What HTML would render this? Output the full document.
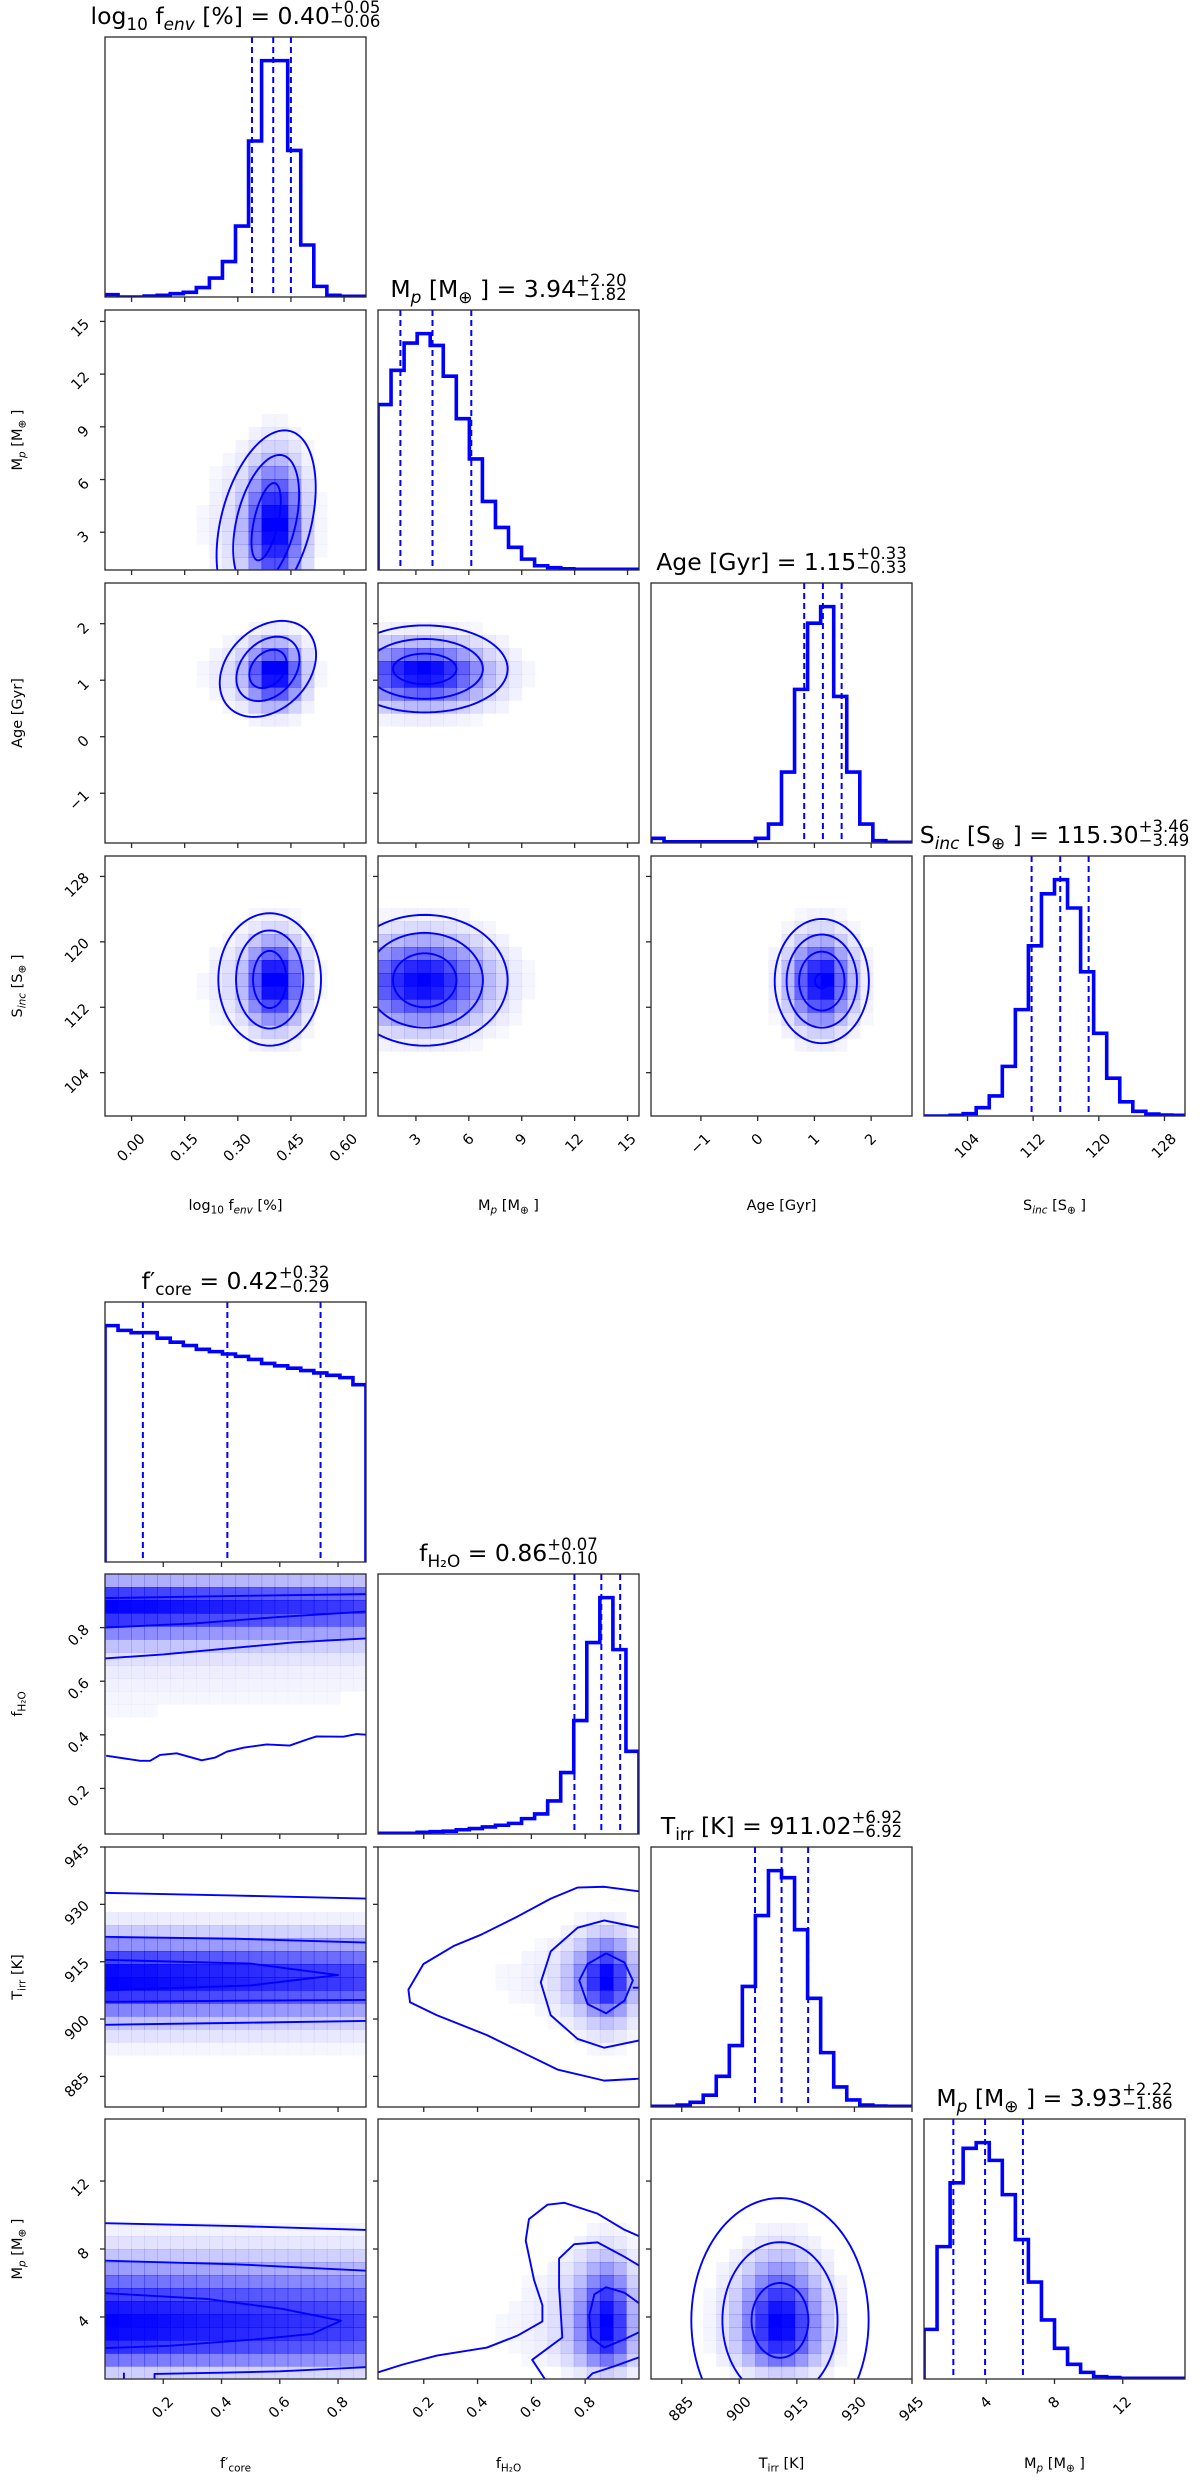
<!DOCTYPE html>
<html>
<head>
<meta charset="utf-8">
<style>
  html,body{margin:0;padding:0;background:#fff;}
  svg{display:block;}
  text{font-family:"DejaVu Sans","Liberation Sans",sans-serif;fill:#000;}
</style>
</head>
<body>
<svg id="chart" xmlns="http://www.w3.org/2000/svg" width="1200" height="2482" viewBox="0 0 1200 2482"></svg>
<script>
// ===================== DATA =====================
const rangeLogF = [-0.075, 0.662];
const rangeMpTop = [0.85, 15.65];
const rangeAge = [-1.88, 2.72];
const rangeSinc = [98.7, 130.5];
const rangeFcore = [0.0, 0.896];
const rangeFh2o = [0.03, 1.0];
const rangeTirr = [877, 945];
const rangeMpBot = [0.35, 15.65];

const histLogF = [0.01,0.0,0.0,0.004,0.007,0.014,0.02,0.04,0.08,0.15,0.30,0.66,1.0,1.0,0.62,0.22,0.045,0.007,0.003,0.003];
const histMpTop = [0.70,0.845,0.96,1.0,0.95,0.82,0.64,0.47,0.29,0.18,0.096,0.046,0.018,0.01,0.005,0.003,0.003,0.003,0.003,0.003];
const histAge = [0.02,0.005,0.005,0.005,0.005,0.005,0.005,0.005,0.02,0.08,0.30,0.65,0.93,1.0,0.62,0.30,0.08,0.01,0.003,0.003];
const histSinc = [0.0,0.0,0.003,0.01,0.035,0.085,0.21,0.45,0.72,0.94,1.0,0.88,0.61,0.35,0.16,0.06,0.02,0.008,0.004,0.003];
const histFcore = [1.0,0.98,0.97,0.97,0.947,0.93,0.916,0.90,0.89,0.88,0.87,0.857,0.84,0.83,0.82,0.81,0.80,0.79,0.78,0.75];
const histFh2o = [0.003,0.003,0.003,0.007,0.01,0.012,0.018,0.023,0.03,0.037,0.045,0.065,0.085,0.14,0.26,0.48,0.81,1.0,0.78,0.35];
const histTirr = [0.003,0.003,0.008,0.02,0.05,0.13,0.26,0.51,0.81,1.0,0.97,0.75,0.46,0.23,0.085,0.03,0.008,0.004,0.003,0.003];
const histMpBot = [0.21,0.56,0.83,0.976,1.0,0.925,0.78,0.59,0.41,0.25,0.13,0.062,0.028,0.01,0.006,0.003,0.003,0.003,0.003,0.003];

const quantLogF = [0.34, 0.40, 0.45];
const quantMpTop = [2.12, 3.94, 6.14];
const quantAge = [0.82, 1.15, 1.48];
const quantSinc = [111.81, 115.30, 118.76];
const quantFcore = [0.13, 0.42, 0.74];
const quantFh2o = [0.76, 0.86, 0.93];
const quantTirr = [904.10, 911.02, 917.94];
const quantMpBot = [2.07, 3.93, 6.15];

const ticksLogF = [0.00, 0.15, 0.30, 0.45, 0.60];
const tickLabelsLogF = ["0.00","0.15","0.30","0.45","0.60"];
const ticksMpTop = [3, 6, 9, 12, 15];
const tickLabelsMpTop = ["3","6","9","12","15"];
const ticksAge = [-1, 0, 1, 2];
const tickLabelsAge = ["\u22121","0","1","2"];
const ticksSinc = [104, 112, 120, 128];
const tickLabelsSinc = ["104","112","120","128"];
const ticksFcore = [0.2, 0.4, 0.6, 0.8];
const tickLabelsFcore = ["0.2","0.4","0.6","0.8"];
const ticksFh2o = [0.2, 0.4, 0.6, 0.8];
const tickLabelsFh2o = ["0.2","0.4","0.6","0.8"];
const ticksTirr = [885, 900, 915, 930, 945];
const tickLabelsTirr = ["885","900","915","930","945"];
const ticksMpBot = [4, 8, 12];
const tickLabelsMpBot = ["4","8","12"];

const ellMpLogF_center = [0.38, 3.6];
const ellMpLogF_rx = [0.035, 0.085, 0.13];
const ellMpLogF_ry = [2.2, 3.8, 5.2];
const ellMpLogF_shear = [0.010];
const ellAgeLogF_center = [0.385, 1.2];
const ellAgeLogF_rx = [0.05, 0.085, 0.13];
const ellAgeLogF_ry = [0.34, 0.57, 0.85];
const ellAgeLogF_shear = [0.047];
const ellSincLogF_center = [0.39, 115.4];
const ellSincLogF_rx = [0.047, 0.095, 0.145];
const ellSincLogF_ry = [3.5, 6.0, 8.1];
const ellSincLogF_shear = [0];
const ellAgeMp_center = [3.5, 1.2];
const ellAgeMp_rx = [1.8, 3.3, 4.7];
const ellAgeMp_ry = [0.27, 0.53, 0.77];
const ellAgeMp_shear = [0];
const ellSincMp_center = [3.5, 115.3];
const ellSincMp_rx = [1.8, 3.3, 4.7];
const ellSincMp_ry = [3.3, 5.8, 8.0];
const ellSincMp_shear = [0];
const ellSincAge_center = [1.13, 115.2];
const ellSincAge_rx = [0.12, 0.4, 0.62, 0.83];
const ellSincAge_ry = [0.9, 3.6, 5.7, 7.6];
const ellSincAge_shear = [0];
const ellMpTirr_center = [910.6, 3.8];
const ellMpTirr_rx = [7.4, 15.0, 23.1];
const ellMpTirr_ry = [2.2, 4.6, 7.2];
const ellMpTirr_shear = [0];

const lineFh2oFcore_1 = [[0,0.91],[0.45,0.918],[0.9,0.925]];
const lineFh2oFcore_2 = [[0,0.80],[0.3,0.815],[0.6,0.84],[0.9,0.86]];
const lineFh2oFcore_3 = [[0,0.685],[0.2,0.70],[0.45,0.725],[0.65,0.745],[0.9,0.76]];
const lineFh2oFcore_4 = [[0.004,0.322],[0.121,0.303],[0.155,0.303],[0.189,0.325],[0.246,0.331],[0.332,0.305],[0.378,0.315],[0.418,0.337],[0.475,0.352],[0.555,0.364],[0.634,0.36],[0.692,0.382],[0.726,0.394],[0.818,0.393],[0.864,0.403],[0.9,0.40]];
const lineTirrFcore_1 = [[0,933],[0.45,932.3],[0.9,931.5]];
const lineTirrFcore_2 = [[0,921.5],[0.45,921],[0.9,920]];
const lineTirrFcore_3 = [[0,915.5],[0.5,914.5],[0.8,911.5],[0.5,908.8],[0,907.5]];
const lineTirrFcore_4 = [[0,904.5],[0.45,904.8],[0.9,905]];
const lineTirrFcore_5 = [[0,898.5],[0.45,899],[0.9,899.5]];
const lineMpFcore_1 = [[0,9.52],[0.45,9.35],[0.9,9.12]];
const lineMpFcore_2 = [[0,7.31],[0.45,7.1],[0.9,6.72]];
const lineMpFcore_3 = [[0,5.40],[0.35,5.06],[0.61,4.47],[0.81,3.78],[0.71,3.0],[0.53,2.7],[0.22,2.3],[0,2.17]];
const lineMpFcore_4 = [[0.17,0.28],[0.17,0.65],[0.4,0.72],[0.6,0.8],[0.9,1.05]];
const lineMpFcore_5 = [[0.065,0.3],[0.065,0.72]];
const lineTirrFh2o_1 = [[1.001,933.4],[0.871,934.6],[0.772,934.4],[0.672,931.5],[0.548,926.8],[0.411,922],[0.311,919.1],[0.199,914.4],[0.143,907.7],[0.149,904.4],[0.249,901],[0.435,895.8],[0.56,891.5],[0.697,886.8],[0.871,883.9],[1.001,884.4]];
const lineTirrFh2o_2 = [[1.001,923.9],[0.871,925.8],[0.772,923.9],[0.672,917.7],[0.635,909.6],[0.672,901],[0.772,894.8],[0.871,892.5],[1.001,894.4]];
const lineTirrFh2o_3 = [[0.878,917.2],[0.946,914.8],[0.977,910.1],[0.946,904.8],[0.878,901.5],[0.809,903.9],[0.778,910.1],[0.809,914.4],[0.878,917.2]];
const lineTirrFh2o_4 = [[0.977,908.2],[1.001,908.2]];
const lineMpFh2o_1 = [[0.03,0.74],[0.124,1.21],[0.249,1.73],[0.435,2.2],[0.548,2.9],[0.641,3.74],[0.641,4.69],[0.61,6.17],[0.579,8.5],[0.591,9.76],[0.66,10.61],[0.722,10.72],[0.846,10.08],[0.946,9.13],[1.001,8.75]];
const lineMpFh2o_2 = [[0.653,0.28],[0.603,1.48],[0.715,2.79],[0.703,5.75],[0.703,7.44],[0.759,8.28],[0.846,8.39],[0.946,7.54],[1.001,7.02]];
const lineMpFh2o_3 = [[1.001,1.63],[0.908,1.10],[0.827,0.68],[0.802,0.28]];
const lineMpFh2o_4 = [[1.001,4.80],[0.946,5.43],[0.878,5.75],[0.834,5.33],[0.815,4.06],[0.822,2.79],[0.871,2.2],[0.946,2.69],[1.001,3.11]];

// ===================== LAYOUT =====================
const NS = "http://www.w3.org/2000/svg";
const svg = document.getElementById("chart");
const COLS = [105, 378, 651, 924];
const PW = 261, PH = 260;
const ROWS_TOP = [37, 310, 583, 856];
const ROWS_BOT = [1302, 1574, 1847, 2119];
const BLUE = "#0000ff";
let clipId = 0;

function mk(tag, parent) {
  const e = document.createElementNS(NS, tag);
  parent.appendChild(e);
  return e;
}
function scale(range, p0, len) {
  return v => p0 + (v - range[0]) / (range[1] - range[0]) * len;
}
function scaleY(range, p0, len) {
  return v => p0 + len - (v - range[0]) / (range[1] - range[0]) * len;
}
function richText(parent, segs, fs) {
  const t = mk("text", parent);
  t.setAttribute("font-size", fs);
  let shift = 0;
  segs.forEach(s => {
    const sp = mk("tspan", t);
    sp.textContent = s[0];
    let target = 0;
    if (s[1] === "sub" || s[1] === "subi") {
      target = fs * 0.25;
      sp.setAttribute("font-size", fs * 0.72);
      if (s[1] === "subi") sp.setAttribute("font-style", "italic");
    }
    if (s[1] === "i") sp.setAttribute("font-style", "italic");
    sp.setAttribute("dy", target - shift);
    shift = target;
  });
  return t;
}
function panelGroup(name, px, py) {
  const g = mk("g", svg);
  
  
  const cp = mk("clipPath", g);
  const id = "clip" + (clipId++);
  cp.setAttribute("id", id);
  const cr = mk("rect", cp);
  cr.setAttribute("x", px); cr.setAttribute("y", py);
  cr.setAttribute("width", PW); cr.setAttribute("height", PH);
  const inner = mk("g", g);
  inner.setAttribute("clip-path", "url(#" + id + ")");
  return {g, inner};
}
function frame(g, px, py) {
  const r = mk("rect", g);
  
  
  r.setAttribute("x", px); r.setAttribute("y", py);
  r.setAttribute("width", PW); r.setAttribute("height", PH);
  r.setAttribute("fill", "none"); r.setAttribute("stroke", "#2a2a2a"); r.setAttribute("stroke-width", 1.3);
}
function xTicks(g, ticks, sx, pb) {
  ticks.forEach(v => {
    const l = mk("line", g);
    
    
    const x = sx(v);
    l.setAttribute("x1", x); l.setAttribute("x2", x);
    l.setAttribute("y1", pb); l.setAttribute("y2", pb + 5);
    l.setAttribute("stroke", "#2a2a2a"); l.setAttribute("stroke-width", 1.3);
  });
}
function yTicks(g, ticks, sy, pl) {
  ticks.forEach(v => {
    const l = mk("line", g);
    
    
    const y = sy(v);
    l.setAttribute("x1", pl - 5); l.setAttribute("x2", pl);
    l.setAttribute("y1", y); l.setAttribute("y2", y);
    l.setAttribute("stroke", "#2a2a2a"); l.setAttribute("stroke-width", 1.3);
  });
}
const TFS = 14.5;
function xTickLabels(ticks, labels, sx, pb) {
  ticks.forEach((v, i) => {
    const t = mk("text", svg);
    
    
    t.textContent = labels[i];
    t.setAttribute("font-size", TFS);
    t.setAttribute("text-anchor", "middle");
    t.setAttribute("dominant-baseline", "central");
    const w = t.getComputedTextLength();
    const half = (w + 0.73 * TFS) * 0.3536;
    t.setAttribute("transform", "translate(" + sx(v) + "," + (pb + 17 + half) + ") rotate(-45)");
  });
}
function yTickLabels(ticks, labels, sy, pl) {
  ticks.forEach((v, i) => {
    const t = mk("text", svg);
    
    
    t.textContent = labels[i];
    t.setAttribute("font-size", TFS);
    t.setAttribute("text-anchor", "middle");
    t.setAttribute("dominant-baseline", "central");
    const w = t.getComputedTextLength();
    const half = (w + 0.73 * TFS) * 0.3536;
    t.setAttribute("transform", "translate(" + (pl - 14 - half) + "," + (sy(v) + 0.6 * half + 1) + ") rotate(-45)");
  });
}
function histogram(inner, hist, range, quants, px, py, name) {
  const sx = scale(range, px, PW);
  const mx = Math.max(...hist) * 1.1;
  const sy = v => py + PH - v / mx * PH;
  const n = hist.length;
  const edge = k => sx(range[0] + (range[1] - range[0]) * k / n);
  let d = "M" + edge(0) + "," + sy(0);
  hist.forEach((h, k) => { d += " L" + edge(k) + "," + sy(h) + " L" + edge(k + 1) + "," + sy(h); });
  d += " L" + edge(n) + "," + sy(0);
  const p = mk("path", inner);
  
  
  p.setAttribute("d", d);
  p.setAttribute("fill", "none"); p.setAttribute("stroke", BLUE); p.setAttribute("stroke-width", 3.6);
  quants.forEach(q => {
    const l = mk("line", inner);
    
    
    l.setAttribute("x1", sx(q)); l.setAttribute("x2", sx(q));
    l.setAttribute("y1", py); l.setAttribute("y2", py + PH);
    l.setAttribute("stroke", BLUE); l.setAttribute("stroke-width", 2.0);
    l.setAttribute("stroke-dasharray", "6,4");
  });
}
function heatmap(inner, hx, hy, rx, ry, sx, sy) {
  const mxx = Math.max(...hx), mxy = Math.max(...hy);
  const nx = hx.length, ny = hy.length;
  for (let i = 0; i < nx; i++) {
    for (let j = 0; j < ny; j++) {
      const d = (hx[i] / mxx) * (hy[j] / mxy);
      const a = Math.pow(d, 1.05);
      if (a < 0.03) continue;
      const x0 = sx(rx[0] + (rx[1] - rx[0]) * i / nx), x1 = sx(rx[0] + (rx[1] - rx[0]) * (i + 1) / nx);
      const y0 = sy(ry[0] + (ry[1] - ry[0]) * (j + 1) / ny), y1 = sy(ry[0] + (ry[1] - ry[0]) * j / ny);
      const r = mk("rect", inner);
      
      
      r.setAttribute("x", x0); r.setAttribute("y", y0);
      r.setAttribute("width", x1 - x0 + 0.6); r.setAttribute("height", y1 - y0 + 0.6);
      r.setAttribute("fill", BLUE); r.setAttribute("fill-opacity", a.toFixed(3));
    }
  }
}
function ellipses(inner, center, rxs, rys, shear, sx, sy) {
  rxs.forEach((rx, k) => {
    const ry = rys[k];
    let d = "";
    for (let s = 0; s <= 96; s++) {
      const t = s / 96 * Math.PI * 2;
      const yv = center[1] + ry * Math.sin(t);
      const xv = center[0] + rx * Math.cos(t) + shear[0] * (yv - center[1]);
      d += (s ? " L" : "M") + sx(xv).toFixed(2) + "," + sy(yv).toFixed(2);
    }
    const p = mk("path", inner);
    
    
    p.setAttribute("d", d + " Z");
    p.setAttribute("fill", "none"); p.setAttribute("stroke", BLUE); p.setAttribute("stroke-width", 1.9);
  });
}
function polylines(inner, lines, sx, sy) {
  lines.forEach(pts => {
    const p = mk("path", inner);
    
    
    p.setAttribute("d", pts.map((q, k) => (k ? "L" : "M") + sx(q[0]).toFixed(2) + "," + sy(q[1]).toFixed(2)).join(" "));
    p.setAttribute("fill", "none"); p.setAttribute("stroke", BLUE); p.setAttribute("stroke-width", 1.9);
    p.setAttribute("stroke-linejoin", "round");
  });
}
function title(segs, sup, sub, cx, base, name) {
  const g = mk("g", svg);
  
  
  const fs = 23.5;
  const t = richText(g, segs, fs);
  const w = t.getComputedTextLength();
  const ts = mk("text", g); ts.textContent = sup; ts.setAttribute("font-size", 16.5);
  const tb = mk("text", g); tb.textContent = sub; tb.setAttribute("font-size", 16.5);
  const ws = Math.max(ts.getComputedTextLength(), tb.getComputedTextLength());
  const x0 = cx - (w + ws) / 2;
  t.setAttribute("x", x0); t.setAttribute("y", base);
  ts.setAttribute("x", x0 + w); ts.setAttribute("y", base - 11);
  tb.setAttribute("x", x0 + w); tb.setAttribute("y", base + 3);
}
function xLabel(segs, cx, base, name) {
  const t = richText(svg, segs, 14.5);
  
  
  const w = t.getComputedTextLength();
  t.setAttribute("x", cx - w / 2); t.setAttribute("y", base);
}
function yLabel(segs, cy, xb, name) {
  const t = richText(svg, segs, 14.5);
  
  
  const w = t.getComputedTextLength();
  t.setAttribute("x", 0); t.setAttribute("y", 0);
  t.setAttribute("transform", "translate(" + xb + "," + (cy + w / 2) + ") rotate(-90)");
}

function buildCorner(rows, vars, twoD, titles, xlabs, ylabs, labelBase, prefix) {
  const n = 4;
  for (let i = 0; i < n; i++) {
    for (let j = 0; j <= i; j++) {
      const px = COLS[j], py = rows[i];
      const vx = vars[j], vy = vars[i];
      const sx = scale(vx.range, px, PW);
      const pg = panelGroup(prefix + (i === j ? "-hist-" + vx.key : "-panel-" + vy.key + "-vs-" + vx.key), px, py);
      if (i === j) {
        histogram(pg.inner, vx.hist, vx.range, vx.quant, px, py, prefix + "-histogram-" + vx.key);
      } else {
        const sy = scaleY(vy.range, py, PH);
        heatmap(pg.inner, vx.hist, vy.hist, vx.range, vy.range, sx, sy);
        const spec = twoD[i + "" + j];
        if (spec.type === "ell") ellipses(pg.inner, spec.center, spec.rx, spec.ry, spec.shear, sx, sy);
        else polylines(pg.inner, spec.lines, sx, sy);
        yTicks(pg.g, vy.ticks, sy, px);
        if (j === 0) yTickLabels(vy.ticks, vy.labels, sy, px);
      }
      frame(pg.g, px, py);
      xTicks(pg.g, vx.ticks, sx, py + PH);
      if (i === n - 1) xTickLabels(vx.ticks, vx.labels, sx, py + PH);
    }
  }
  for (let k = 0; k < n; k++) {
    title(titles[k].segs, titles[k].sup, titles[k].sub, COLS[k] + PW / 2, rows[k] - 13, prefix + "-title-" + vars[k].key);
    xLabel(xlabs[k], COLS[k] + PW / 2, labelBase, prefix + "-x-axis-title-" + vars[k].key);
    if (k > 0) yLabel(ylabs[k], rows[k] + PH / 2, 22, prefix + "-y-axis-title-" + vars[k].key);
  }
}

const topVars = [
  {key:"logfenv", range:rangeLogF, hist:histLogF, quant:quantLogF, ticks:ticksLogF, labels:tickLabelsLogF},
  {key:"mp", range:rangeMpTop, hist:histMpTop, quant:quantMpTop, ticks:ticksMpTop, labels:tickLabelsMpTop},
  {key:"age", range:rangeAge, hist:histAge, quant:quantAge, ticks:ticksAge, labels:tickLabelsAge},
  {key:"sinc", range:rangeSinc, hist:histSinc, quant:quantSinc, ticks:ticksSinc, labels:tickLabelsSinc}
];
const topTwoD = {
  "10": {type:"ell", center:ellMpLogF_center, rx:ellMpLogF_rx, ry:ellMpLogF_ry, shear:ellMpLogF_shear},
  "20": {type:"ell", center:ellAgeLogF_center, rx:ellAgeLogF_rx, ry:ellAgeLogF_ry, shear:ellAgeLogF_shear},
  "30": {type:"ell", center:ellSincLogF_center, rx:ellSincLogF_rx, ry:ellSincLogF_ry, shear:ellSincLogF_shear},
  "21": {type:"ell", center:ellAgeMp_center, rx:ellAgeMp_rx, ry:ellAgeMp_ry, shear:ellAgeMp_shear},
  "31": {type:"ell", center:ellSincMp_center, rx:ellSincMp_rx, ry:ellSincMp_ry, shear:ellSincMp_shear},
  "32": {type:"ell", center:ellSincAge_center, rx:ellSincAge_rx, ry:ellSincAge_ry, shear:ellSincAge_shear}
};
const topTitles = [
  {segs:[["log","n"],["10","sub"],["  f","n"],["env","subi"],[" [%] = 0.40","n"]], sup:"+0.05", sub:"\u22120.06"},
  {segs:[["M","n"],["p","subi"],[" [M","n"],["\u2295","sub"],[" ] = 3.94","n"]], sup:"+2.20", sub:"\u22121.82"},
  {segs:[["Age [Gyr] = 1.15","n"]], sup:"+0.33", sub:"\u22120.33"},
  {segs:[["S","n"],["inc","subi"],[" [S","n"],["\u2295","sub"],[" ] = 115.30","n"]], sup:"+3.46", sub:"\u22123.49"}
];
const topXL = [
  [["log","n"],["10","sub"],["  f","n"],["env","subi"],[" [%]","n"]],
  [["M","n"],["p","subi"],[" [M","n"],["\u2295","sub"],[" ]","n"]],
  [["Age [Gyr]","n"]],
  [["S","n"],["inc","subi"],[" [S","n"],["\u2295","sub"],[" ]","n"]]
];
buildCorner(ROWS_TOP, topVars, topTwoD, topTitles, topXL, topXL, 1210, "top");

const botVars = [
  {key:"fcore", range:rangeFcore, hist:histFcore, quant:quantFcore, ticks:ticksFcore, labels:tickLabelsFcore},
  {key:"fh2o", range:rangeFh2o, hist:histFh2o, quant:quantFh2o, ticks:ticksFh2o, labels:tickLabelsFh2o},
  {key:"tirr", range:rangeTirr, hist:histTirr, quant:quantTirr, ticks:ticksTirr, labels:tickLabelsTirr},
  {key:"mp", range:rangeMpBot, hist:histMpBot, quant:quantMpBot, ticks:ticksMpBot, labels:tickLabelsMpBot}
];
const botTwoD = {
  "10": {type:"line", lines:[lineFh2oFcore_1, lineFh2oFcore_2, lineFh2oFcore_3, lineFh2oFcore_4]},
  "20": {type:"line", lines:[lineTirrFcore_1, lineTirrFcore_2, lineTirrFcore_3, lineTirrFcore_4, lineTirrFcore_5]},
  "30": {type:"line", lines:[lineMpFcore_1, lineMpFcore_2, lineMpFcore_3, lineMpFcore_4, lineMpFcore_5]},
  "21": {type:"line", lines:[lineTirrFh2o_1, lineTirrFh2o_2, lineTirrFh2o_3, lineTirrFh2o_4]},
  "31": {type:"line", lines:[lineMpFh2o_1, lineMpFh2o_2, lineMpFh2o_3, lineMpFh2o_4]},
  "32": {type:"ell", center:ellMpTirr_center, rx:ellMpTirr_rx, ry:ellMpTirr_ry, shear:ellMpTirr_shear}
};
const botTitles = [
  {segs:[["f\u2032","n"],["core","sub"],[" = 0.42","n"]], sup:"+0.32", sub:"\u22120.29"},
  {segs:[["f","n"],["H\u2082O","sub"],[" = 0.86","n"]], sup:"+0.07", sub:"\u22120.10"},
  {segs:[["T","n"],["irr","sub"],[" [K] = 911.02","n"]], sup:"+6.92", sub:"\u22126.92"},
  {segs:[["M","n"],["p","subi"],[" [M","n"],["\u2295","sub"],[" ] = 3.93","n"]], sup:"+2.22", sub:"\u22121.86"}
];
const botXL = [
  [["f\u2032","n"],["core","sub"]],
  [["f","n"],["H\u2082O","sub"]],
  [["T","n"],["irr","sub"],[" [K]","n"]],
  [["M","n"],["p","subi"],[" [M","n"],["\u2295","sub"],[" ]","n"]]
];
buildCorner(ROWS_BOT, botVars, botTwoD, botTitles, botXL, botXL, 2468, "bottom");
</script>
</body>
</html>
